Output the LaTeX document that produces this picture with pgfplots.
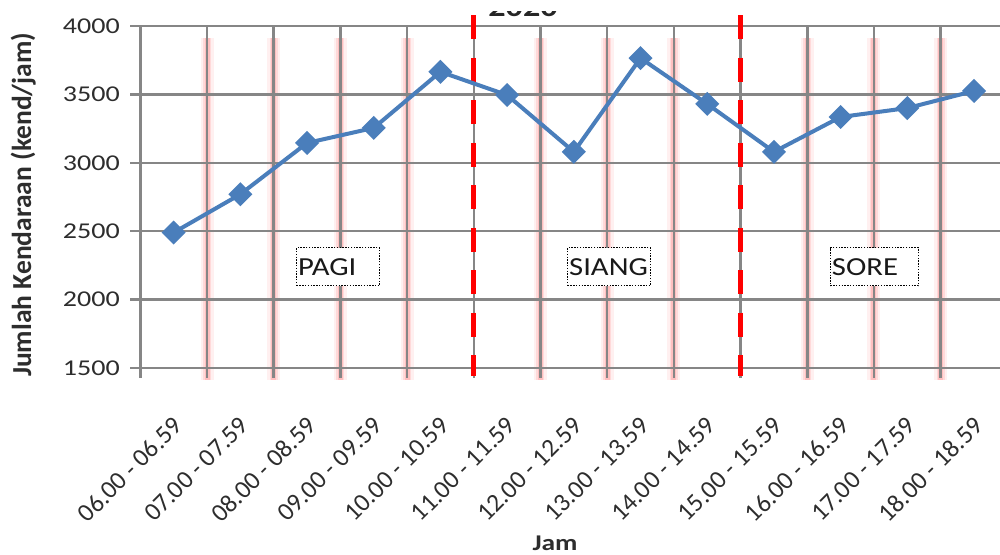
\documentclass[border=0pt]{standalone}
\usepackage{pgfplots}
\pgfplotsset{compat=1.18}
\usepackage{fontspec}
\setmainfont{Carlito}
\newfontfamily\tickfont{Carlito}[FakeStretch=1.24]
\newfontfamily\boxfont{Carlito}[FakeStretch=1.18]
\newfontfamily\widebold{Carlito}[FakeStretch=1.22]

\definecolor{serieblue}{RGB}{74,126,187}
\definecolor{gridgray}{RGB}{134,134,134}
\definecolor{ticktext}{RGB}{45,45,45}

\pgfplotstableread{
idx volume
0  2490
1  2770
2  3145
3  3255
4  3665
5  3495
6  3080
7  3765
8  3430
9  3080
10 3335
11 3400
12 3525
}\traffic

\begin{document}
\begin{tikzpicture}[x=1pt,y=1pt]
\begin{axis}[
  set layers,
  at={(140.3pt,186pt)}, anchor=south west,
  scale only axis, width=860.4pt, height=342pt,
  xmin=-0.5, xmax=12.4, ymin=1500, ymax=4000,
  clip=false,
  axis line style={draw=none},
  xtick={0,...,12},
  xticklabels={06.00 - 06.59, 07.00 - 07.59, 08.00 - 08.59, 09.00 - 09.59,
    10.00 - 10.59, 11.00 - 11.59, 12.00 - 12.59, 13.00 - 13.59,
    14.00 - 14.59, 15.00 - 15.59, 16.00 - 16.59, 17.00 - 17.59,
    18.00 - 18.59},
  minor xtick={-0.5,0.5,...,11.5},
  ytick={1500,2000,...,4000},
  xtick pos=left, ytick pos=left,
  tick align=outside,
  major tick length=10pt, minor tick length=10pt,
  major x tick style={draw=none},
  tick style={gridgray, line width=2.5pt},
  ymajorgrids, xminorgrids,
  major grid style={gridgray, line width=2.5pt},
  minor grid style={gridgray, line width=2.5pt},
  /pgf/number format/assume math mode=true,
  /pgf/number format/1000 sep={},
  scaled y ticks=false,
  yticklabel style={font=\tickfont\fontsize{22.6}{26}\selectfont, text=ticktext, xshift=-7pt},
  xticklabel style={font=\rmfamily\fontsize{25.5}{28}\selectfont, text=ticktext,
    xshift=-2pt, yshift=-37pt, rotate=45, anchor=north east, inner sep=0pt},
  xlabel={Jam},
  xlabel style={at={(axis description cs:0.482,0)}, anchor=base, yshift=-182pt,
    font=\widebold\bfseries\fontsize{22.5}{26}\selectfont, text=ticktext},
  ylabel={Jumlah Kendaraan (kend/jam)},
  ylabel style={at={(axis description cs:-0.136,0.477)}, anchor=center,
    font=\bfseries\fontsize{27.5}{30}\selectfont, text=ticktext},
]

% soft pink halo behind the hourly separators
\begin{pgfonlayer}{axis background}
\pgfplotsinvokeforeach{0.5,1.5,2.5,3.5,5.5,6.5,7.5,9.5,10.5,11.5}{
  \draw[red, opacity=0.06, line width=13pt] (axis cs:#1,3912) -- (axis cs:#1,1412);
  \draw[red, opacity=0.09, line width=8pt] (axis cs:#1,3912) -- (axis cs:#1,1412);
  \draw[red, opacity=0.12, line width=5pt] (axis cs:#1,3912) -- (axis cs:#1,1412);
}
\end{pgfonlayer}

% period separators
\draw[red, line width=5pt, dash pattern=on 24pt off 18.5pt]
  (axis cs:4.5,4080) -- (axis cs:4.5,1441);
\draw[red, line width=5pt, dash pattern=on 24pt off 18.5pt]
  (axis cs:8.5,4080) -- (axis cs:8.5,1441);

% period labels
\tikzset{period/.style={draw=black, line width=1.4pt, dash pattern=on 1.4pt off 1.4pt,
  fill=white, minimum height=38pt, inner xsep=1.5pt, inner ysep=0pt, align=left,
  anchor=west, font=\boxfont\fontsize{26}{30}\selectfont, text=black!90}}
\node[period, text width=80pt] at (axis cs:1.834,2240) {PAGI};
\node[period, text width=80pt] at (axis cs:5.897,2240) {SIANG};
\node[period, text width=85pt] at (axis cs:9.837,2240) {SORE};

\addplot[serieblue, line width=4pt, mark=square*,
  mark options={rotate=45, scale=1, solid}, mark size=6.5pt]
  table[x=idx, y=volume] {\traffic};
\end{axis}

% chart title, only its lower edge shows
\begin{scope}
\clip (480,536) rectangle (570,542);
\node[anchor=base, font=\widebold\bfseries\fontsize{28}{30}\selectfont, text=black!85]
  at (523,537.5) {2020};
\end{scope}

\pgfresetboundingbox
\useasboundingbox (0,0) rectangle (1000,554);
\end{tikzpicture}
\end{document}
